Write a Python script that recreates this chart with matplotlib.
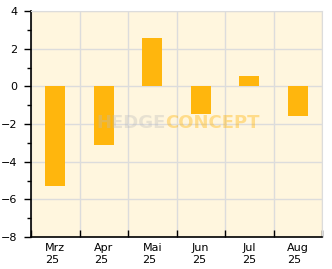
import matplotlib
matplotlib.use("Agg")
import matplotlib.pyplot as plt
import numpy as np

months = ["Mrz\n25", "Apr\n25", "Mai\n25", "Jun\n25", "Jul\n25", "Aug\n25"]
values = [-5.3, -3.1, 2.55, -1.45, 0.55, -1.55]

bar_color = "#FFB60D"
bg_color = "#FFF6DE"
grid_color = "#DCDCDC"

fig = plt.figure(figsize=(3.32, 2.69), dpi=100)
ax = fig.add_axes([31 / 332, 32 / 269, 291 / 332, 226 / 269])
ax.set_facecolor(bg_color)

x = np.arange(len(months))
ax.bar(x, values, width=0.42, color=bar_color, zorder=3)

ax.set_xlim(-0.5, len(months) - 0.5)
ax.set_ylim(-8, 4)
ax.set_yticks(np.arange(-8, 5, 2))
ax.set_yticks(np.arange(-7, 4, 2), minor=True)
ax.set_yticklabels([f"{v:g}".replace("-", "\u2212") for v in range(-8, 5, 2)], fontsize=8)

# category ticks at band borders, labels at band centers
ax.set_xticks(np.arange(-0.5, len(months), 1.0))
ax.set_xticklabels([])
ax.set_xticks(x, minor=True)
ax.set_xticklabels(months, minor=True, fontsize=8, multialignment="left", linespacing=1.35)
ax.tick_params(axis="x", which="minor", length=0, pad=4)
ax.tick_params(axis="x", which="major", direction="in", length=5, width=1, color="black")
ax.tick_params(axis="y", which="major", length=5, width=1, pad=5)
ax.tick_params(axis="y", which="minor", length=3, width=1)

ax.grid(True, which="major", color=grid_color, linewidth=1, zorder=0)
ax.set_axisbelow(True)

for s in ["top", "right"]:
    ax.spines[s].set_color(grid_color)
for s in ["left", "bottom"]:
    ax.spines[s].set_color("black")
    ax.spines[s].set_linewidth(1.2)

# watermark
wm = dict(transform=ax.transAxes, va="center", fontsize=13, fontweight="bold",
          family="DejaVu Sans", zorder=4)
ax.text(0.462, 0.503, "HEDGE", ha="right", color="#BBBBBB", alpha=0.35, **wm)
ax.text(0.462, 0.503, "CONCEPT", ha="left", color="#FFB60D", alpha=0.4, **wm)

fig.savefig("out.png", dpi=100)
